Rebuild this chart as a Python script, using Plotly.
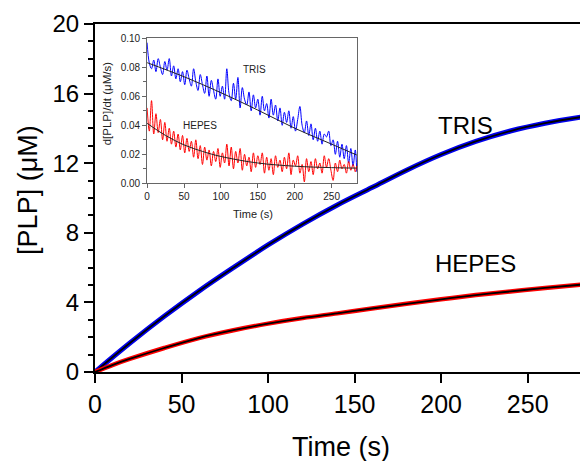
import plotly.graph_objects as go

# main panel: [PLP] vs time
t_main_tris = [0, 20, 40, 60, 80, 100, 120, 140, 160, 180, 200, 220, 240, 260, 284]
plp_tris = [0, 1.65, 3.2, 4.65, 6.0, 7.3, 8.5, 9.6, 10.6, 11.6, 12.5, 13.25, 13.85, 14.3, 14.7]
t_main_hepes = [0, 10, 20, 40, 60, 80, 100, 120, 140, 160, 180, 200, 220, 240, 260, 284]
plp_hepes = [0, 0.4, 0.75, 1.38, 1.95, 2.4, 2.78, 3.1, 3.37, 3.65, 3.92, 4.18, 4.42, 4.63, 4.83, 5.05]

# inset: d[PLP]/dt (noisy), sampled every 3 s
t_rate = list(range(0, 283, 3)) + [284]
rate_tris = [0.097, 0.083, 0.079, 0.085, 0.077, 0.086, 0.080, 0.075, 0.084, 0.078,
             0.086, 0.074, 0.081, 0.072, 0.079, 0.070, 0.077, 0.068, 0.078, 0.072,
             0.067, 0.079, 0.070, 0.064, 0.075, 0.068, 0.062, 0.074, 0.060, 0.071,
             0.064, 0.058, 0.072, 0.060, 0.067, 0.058, 0.079, 0.062, 0.057, 0.069,
             0.058, 0.073, 0.052, 0.066, 0.058, 0.054, 0.063, 0.050, 0.061, 0.052,
             0.058, 0.047, 0.060, 0.050, 0.055, 0.045, 0.058, 0.047, 0.054, 0.043,
             0.052, 0.040, 0.049, 0.042, 0.050, 0.038, 0.046, 0.036, 0.044, 0.053,
             0.040, 0.035, 0.043, 0.033, 0.041, 0.030, 0.038, 0.029, 0.036, 0.027,
             0.034, 0.032, 0.036, 0.026, 0.030, 0.020, 0.029, 0.018, 0.027, 0.017,
             0.026, 0.014, 0.024, 0.012, 0.023, 0.008]
rate_hepes = [0.052, 0.036, 0.057, 0.034, 0.048, 0.035, 0.044, 0.030, 0.042, 0.029,
              0.038, 0.027, 0.036, 0.025, 0.034, 0.023, 0.033, 0.021, 0.031, 0.022,
              0.029, 0.018, 0.030, 0.017, 0.026, 0.013, 0.025, 0.016, 0.023, 0.012,
              0.022, 0.015, 0.024, 0.011, 0.021, 0.014, 0.027, 0.012, 0.025, 0.010,
              0.022, 0.014, 0.024, 0.009, 0.020, 0.012, 0.018, 0.008, 0.021, 0.011,
              0.019, 0.013, 0.021, 0.007, 0.018, 0.009, 0.017, 0.006, 0.019, 0.011,
              0.016, 0.008, 0.018, 0.010, 0.021, 0.006, 0.016, 0.012, 0.019, 0.007,
              0.013, 0.001, 0.017, 0.008, 0.015, 0.006, 0.017, 0.010, 0.014, 0.007,
              0.019, 0.011, 0.017, 0.009, 0.002, 0.014, 0.008, 0.016, 0.010, 0.013,
              0.007, 0.015, 0.009, 0.013, 0.008, 0.012]

# fitted curves in the inset
t_fit_tris = [0, 50, 100, 150, 200, 250, 284]
fit_tris = [0.0832, 0.0735, 0.0625, 0.0505, 0.038, 0.027, 0.0195]
t_fit_hepes = [0, 25, 50, 75, 100, 150, 200, 250, 284]
fit_hepes = [0.0414, 0.033, 0.0265, 0.022, 0.0185, 0.014, 0.0118, 0.0108, 0.0105]

FONT = "Liberation Sans, Arial, sans-serif"

fig = go.Figure()

# main curves: coloured data with black fit on top
fig.add_trace(go.Scatter(x=t_main_tris, y=plp_tris, mode="lines", line=dict(color="#0000ee", width=5, shape="spline")))
fig.add_trace(go.Scatter(x=t_main_tris, y=plp_tris, mode="lines", line=dict(color="black", width=1.8, shape="spline")))
fig.add_trace(go.Scatter(x=t_main_hepes, y=plp_hepes, mode="lines", line=dict(color="#ff0000", width=4.5, shape="spline")))
fig.add_trace(go.Scatter(x=t_main_hepes, y=plp_hepes, mode="lines", line=dict(color="black", width=1.8, shape="spline")))

# inset
fig.add_trace(go.Scatter(x=t_rate, y=rate_tris, mode="lines", line=dict(color="#0000ff", width=1, shape="spline"), xaxis="x2", yaxis="y2"))
fig.add_trace(go.Scatter(x=t_rate, y=rate_hepes, mode="lines", line=dict(color="#ff0000", width=1, shape="spline"), xaxis="x2", yaxis="y2"))
fig.add_trace(go.Scatter(x=t_fit_tris, y=fit_tris, mode="lines", line=dict(color="#222222", width=1, shape="spline"), xaxis="x2", yaxis="y2"))
fig.add_trace(go.Scatter(x=t_fit_hepes, y=fit_hepes, mode="lines", line=dict(color="#222222", width=1, shape="spline"), xaxis="x2", yaxis="y2"))

# page body has an 8px margin, so the figure is 8px smaller and margins shifted
fig.update_layout(
    width=580, height=453,
    margin=dict(l=87, r=0, t=16, b=89),
    plot_bgcolor="white", paper_bgcolor="white",
    showlegend=False,
    font=dict(family=FONT, color="black"),
    xaxis=dict(range=[0, 283.7], domain=[0, 1], tickvals=[0, 50, 100, 150, 200, 250],
               showline=True, linecolor="black", linewidth=2, mirror=True,
               ticks="outside", ticklen=9, tickwidth=2, tickcolor="black",
               tickfont=dict(size=25), showgrid=False, zeroline=False),
    yaxis=dict(range=[0, 20], domain=[0, 1], tickvals=[0, 4, 8, 12, 16, 20],
               showline=True, linecolor="black", linewidth=2, mirror=True,
               ticks="outside", ticklen=9, tickwidth=2, tickcolor="black",
               minor=dict(dtick=1, ticks="outside", ticklen=5, tickwidth=2, tickcolor="black"),
               tickfont=dict(size=24), showgrid=False, zeroline=False),
    xaxis2=dict(range=[0, 284.6], domain=[0.1061, 0.534], anchor="y2",
                tickvals=[0, 50, 100, 150, 200, 250],
                showline=True, linecolor="#666666", linewidth=1, mirror=True,
                ticks="outside", ticklen=4, tickwidth=1, tickcolor="#666666",
                tickfont=dict(size=10, color="#222222"), showgrid=False, zeroline=False),
    yaxis2=dict(range=[0, 0.1], domain=[0.5422, 0.9589], anchor="x2",
                tickvals=[0, 0.02, 0.04, 0.06, 0.08, 0.10], tickformat=".2f",
                showline=True, linecolor="#666666", linewidth=1, mirror=True,
                ticks="outside", ticklen=4, tickwidth=1, tickcolor="#666666",
                minor=dict(dtick=0.01, ticks="outside", ticklen=3, tickwidth=1, tickcolor="#666666"),
                tickfont=dict(size=10, color="#222222"), showgrid=False, zeroline=False),
)

annots = [
    dict(x=-0.138, y=0.524, text="[PLP] (μM)", textangle=-90, font=dict(size=27)),
    dict(x=0.501, y=-0.2155, text="Time (s)", font=dict(size=27)),
    dict(x=0.7546, y=0.7069, text="TRIS", font=dict(size=24)),
    dict(x=0.7748, y=0.3132, text="HEPES", font=dict(size=24)),
    dict(x=0.3219, y=0.454, text="Time (s)", font=dict(size=11, color="#222222")),
    dict(x=0.025, y=0.770, text="d[PLP]/dt (μM/s)", textangle=-90, font=dict(size=11.5, color="#222222")),
    dict(x=0.3245, y=0.8698, text="TRIS", font=dict(size=10, color="#222222")),
    dict(x=0.2144, y=0.7069, text="HEPES", font=dict(size=10, color="#222222")),
]
for a in annots:
    fig.add_annotation(xref="paper", yref="paper", showarrow=False, xanchor="center", yanchor="middle", **a)

fig.write_html("out.html")
